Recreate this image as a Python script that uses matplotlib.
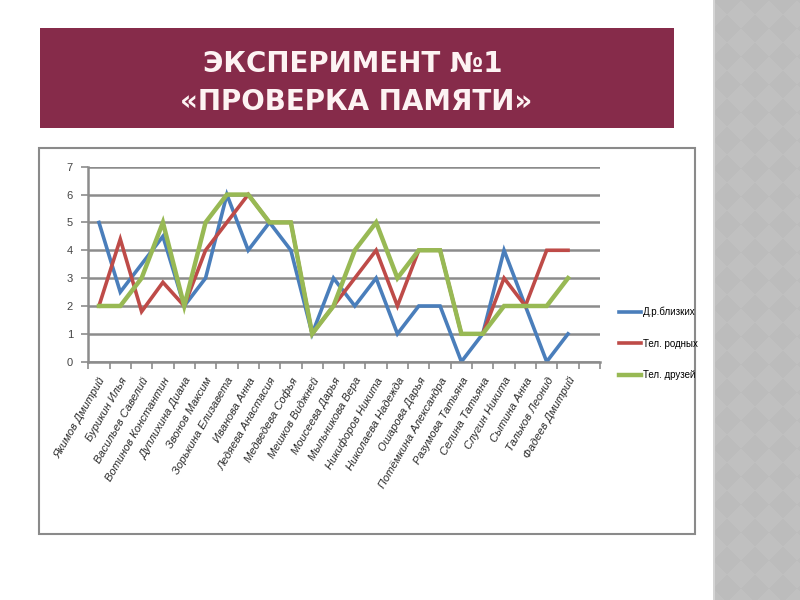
import matplotlib.pyplot as plt
import numpy as np
from matplotlib.patches import Rectangle

plt.rcParams['font.family'] = ['Liberation Sans', 'DejaVu Sans']

# данные
names = ['Якимов Дмитрий', 'Бурикин Илья', 'Васильев Савелий', 'Вотинов Константин',
         'Дуплихина Диана', 'Звонов Максим', 'Зорькина Елизавета', 'Иванова Анна',
         'Ледяева Анастасия', 'Медведева Софья', 'Мешков Виджней', 'Моисеева Дарья',
         'Мыльникова Вера', 'Никифоров Никита', 'Николаева Надежда', 'Ошарова Дарья',
         'Потёмкина Александра', 'Разумова Татьяна', 'Селина Татьяна', 'Слугин Никита',
         'Сытина Анна', 'Тальков Леонид', 'Фадеев Дмитрий']
blizkih = [5, 2.5, 3.5, 4.5, 2, 3, 6, 4, 5, 4, 1, 3, 2, 3, 1, 2, 2, 0, 1, 4, 2, 0, 1]
rodnyh = [2, 4.4, 1.8, 2.85, 2, 4, 5, 6, 5, 5, 1, 2, 3, 4, 2, 4, 4, 1, 1, 3, 2, 4, 4]
druzey = [2, 2, 3, 5, 2, 5, 6, 6, 5, 5, 1, 2, 4, 5, 3, 4, 4, 1, 1, 2, 2, 2, 3]
series_names = ['Д.р.близких', 'Тел. родных', 'Тел. друзей']
n_slots = 24  # в оригинале на оси есть одна пустая категория в конце

fig = plt.figure(figsize=(8, 6), dpi=100)
fig.patch.set_facecolor('white')

# серая полоса справа с ромбами
bg = fig.add_axes([713 / 800, 0, 87 / 800, 1])
yy, xx = np.mgrid[0:600, 0:87]
pat = ((np.floor((xx + yy) / 28) + np.floor((xx - yy) / 28)) % 2)
bg.imshow(0.735 + 0.018 * pat, cmap='gray', vmin=0, vmax=1, aspect='auto', interpolation='bilinear')
bg.axvline(0.5, color='#d4d4d4', lw=1.5)
bg.axis('off')

# заголовок
fig.add_artist(Rectangle((40 / 800, 1 - 128 / 600), 634 / 800, 100 / 600,
                         transform=fig.transFigure, facecolor='#862B4A', edgecolor='none', zorder=-1))
fig.text(353 / 800, 1 - 64 / 600, 'ЭКСПЕРИМЕНТ №1', color='#fdf3f3', fontsize=20,
         fontweight='bold', family='DejaVu Sans', ha='center', va='center')
fig.text(356 / 800, 1 - 102 / 600, '«ПРОВЕРКА ПАМЯТИ»', color='#fdf3f3', fontsize=20,
         fontweight='bold', family='DejaVu Sans', ha='center', va='center')

# рамка диаграммы
fig.add_artist(Rectangle((39 / 800, 1 - 534 / 600), 656 / 800, 386 / 600,
                         transform=fig.transFigure, facecolor='none', edgecolor='#8a8a8a', lw=1.5))

ax = fig.add_axes([88.3 / 800, 1 - 361.7 / 600, 511.7 / 800, 195 / 600])
x = np.arange(len(names))
ax.plot(x, blizkih, color='#4A7EBB', lw=2.6, label=series_names[0], solid_joinstyle='miter')
ax.plot(x, rodnyh, color='#BE4B48', lw=2.6, label=series_names[1], solid_joinstyle='miter')
ax.plot(x, druzey, color='#98B954', lw=3.2, label=series_names[2], solid_joinstyle='miter')

ax.set_xlim(-0.5, n_slots - 0.5)
ax.set_ylim(0, 7)
ax.set_yticks(range(8))
ax.yaxis.grid(True, color='#8c8c8c', lw=1.8)
ax.set_axisbelow(True)
for s in ['top', 'right']:
    ax.spines[s].set_visible(False)
for s in ['left', 'bottom']:
    ax.spines[s].set_color('#8c8c8c')
    ax.spines[s].set_linewidth(1.8)
ax.set_xticks(np.arange(n_slots + 1) - 0.5)
ax.set_xticklabels([])
ax.set_xticks(x, minor=True)
ax.set_xticklabels(names, minor=True, rotation=60, ha='right', rotation_mode='anchor',
                   fontsize=8, style='italic', color='#2a2a2a')
ax.tick_params(axis='x', which='minor', length=0, pad=10)
ax.tick_params(axis='x', which='major', length=5, width=1.2, color='#8c8c8c')
ax.tick_params(axis='y', length=5, width=1.2, color='#8c8c8c', labelsize=8,
               labelcolor='#444444', pad=6)

fig.legend(loc='upper left', bbox_to_anchor=(610 / 800, 1 - 298 / 600), frameon=False,
           fontsize=7, handlelength=2.3, labelspacing=2.2, handletextpad=0.2)

fig.savefig('out.png', dpi=100)
